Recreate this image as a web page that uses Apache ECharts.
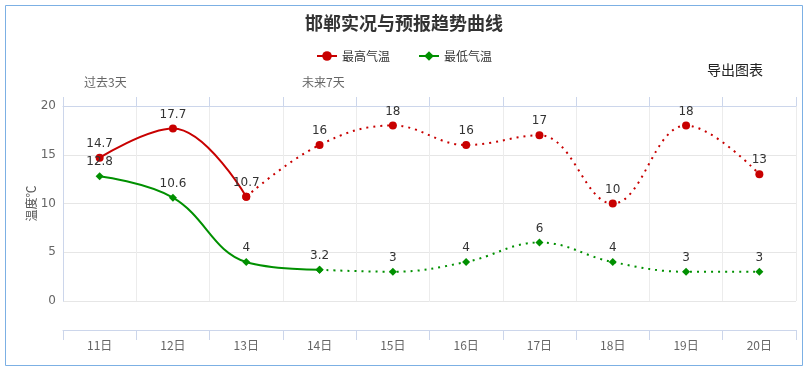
<!DOCTYPE html>
<html>
<head>
<meta charset="utf-8">
<script src="https://cdn.jsdelivr.net/npm/echarts@6/dist/echarts.min.js"></script>
<style>
html,body{margin:0;padding:0;background:#fff;}
#c{width:808px;height:371px;}
</style>
</head>
<body>
<div id="c"></div>
<script>
const categories = ['11日','12日','13日','14日','15日','16日','17日','18日','19日','20日'];
const maxTemps = [14.7, 17.7, 10.7, 16, 18, 16, 17, 10, 18, 13];
const minTemps = [12.8, 10.6, 4, 3.2, 3, 4, 6, 4, 3, 3];
const maxObservedCount = 3;   // solid part of 最高气温
const minObservedCount = 4;   // solid part of 最低气温
const yTicks = [0, 5, 10, 15, 20];

const RED = '#c80000';
const GREEN = '#009000';
const FONT = '"Noto Sans CJK SC", "DejaVu Sans", sans-serif';

function solidPart(arr, n) {
  return arr.map((v, i) => i < n ? v : '-');
}
function dottedPart(arr, n) {
  return arr.map((v, i) => {
    if (i < n - 1) return '-';
    if (i === n - 1) return { value: v, label: { show: false } };
    return v;
  });
}

const labelStyle = { show: true, position: 'top', distance: 4, color: '#333', fontSize: 12, fontFamily: 'DejaVu Sans, sans-serif' };

const chart = echarts.init(document.getElementById('c'), null, { renderer: 'canvas' });
chart.setOption({
  animation: false,
  backgroundColor: '#fff',
  textStyle: { fontFamily: FONT },
  title: {
    text: '邯郸实况与预报趋势曲线',
    left: 'center',
    top: 9,
    textStyle: { fontSize: 18, fontWeight: 'bold', color: '#333', fontFamily: FONT }
  },
  legend: {
    top: 45,
    left: 'center',
    itemWidth: 20,
    itemHeight: 12,
    itemGap: 28,
    data: ['最高气温', '最低气温'],
    textStyle: { fontSize: 12, color: '#333', fontFamily: FONT }
  },
  graphic: [
    { type: 'rect', shape: { x: 5.5, y: 5.5, width: 797, height: 360 }, style: { fill: 'none', stroke: '#7cb0e4', lineWidth: 1 }, silent: true },
    { type: 'text', left: 707, top: 63, style: { text: '导出图表', fill: '#222', font: '14px ' + FONT } },
    { type: 'text', left: 84, top: 76, style: { text: '过去3天', fill: '#666', font: '12px ' + FONT } },
    { type: 'text', left: 302, top: 76, style: { text: '未来7天', fill: '#666', font: '12px ' + FONT } }
  ],
  grid: { left: 63, right: 12, top: 106, bottom: 70, containLabel: false },
  xAxis: [
    {
      type: 'category',
      data: categories,
      position: 'bottom',
      offset: 29,
      boundaryGap: true,
      axisLine: { show: true, onZero: false, lineStyle: { color: '#ccd6eb' } },
      axisTick: { show: true, length: 10, interval: 0, lineStyle: { color: '#ccd6eb' } },
      axisLabel: { color: '#666', fontSize: 12, margin: 9, fontFamily: FONT },
      splitLine: { show: true, interval: 0, lineStyle: { color: '#ececec' } }
    },
    {
      type: 'category',
      data: categories,
      position: 'top',
      boundaryGap: true,
      axisLine: { show: true, onZero: false, lineStyle: { color: '#ccd6eb' } },
      axisTick: { show: true, length: 9, interval: 0, lineStyle: { color: '#ccd6eb' } },
      axisLabel: { show: false },
      splitLine: { show: false }
    }
  ],
  yAxis: {
    type: 'value',
    min: yTicks[0],
    max: yTicks[yTicks.length - 1],
    interval: 5,
    name: '温度℃',
    nameLocation: 'middle',
    nameRotate: 90,
    nameGap: 26,
    nameMoveOverlap: false,
    nameTextStyle: { color: '#555', fontSize: 12, fontFamily: FONT },
    axisLine: { show: true, lineStyle: { color: '#ccd6eb' } },
    axisTick: { show: false },
    axisLabel: { color: '#666', fontSize: 12, margin: 7, fontFamily: 'DejaVu Sans, sans-serif' },
    splitLine: { show: true, lineStyle: { color: '#e6e6e6' } }
  },
  series: [
    {
      name: '最高气温', type: 'line', smooth: 0.4, connectNulls: false,
      data: solidPart(maxTemps, maxObservedCount),
      symbol: 'circle', symbolSize: 8,
      itemStyle: { color: RED },
      lineStyle: { color: RED, width: 2 },
      label: labelStyle, z: 3
    },
    {
      name: '最高气温', type: 'line', smooth: 0.4,
      data: dottedPart(maxTemps, maxObservedCount),
      symbol: 'circle', symbolSize: 8,
      itemStyle: { color: RED },
      lineStyle: { color: RED, width: 2, type: [2, 5] },
      label: labelStyle, z: 2
    },
    {
      name: '最低气温', type: 'line', smooth: 0.4,
      data: solidPart(minTemps, minObservedCount),
      symbol: 'diamond', symbolSize: 8,
      itemStyle: { color: GREEN },
      lineStyle: { color: GREEN, width: 2 },
      label: labelStyle, z: 3
    },
    {
      name: '最低气温', type: 'line', smooth: 0.4,
      data: dottedPart(minTemps, minObservedCount),
      symbol: 'diamond', symbolSize: 8,
      itemStyle: { color: GREEN },
      lineStyle: { color: GREEN, width: 2, type: [2, 5] },
      label: labelStyle, z: 2
    }
  ]
});
</script>
</body>
</html>
